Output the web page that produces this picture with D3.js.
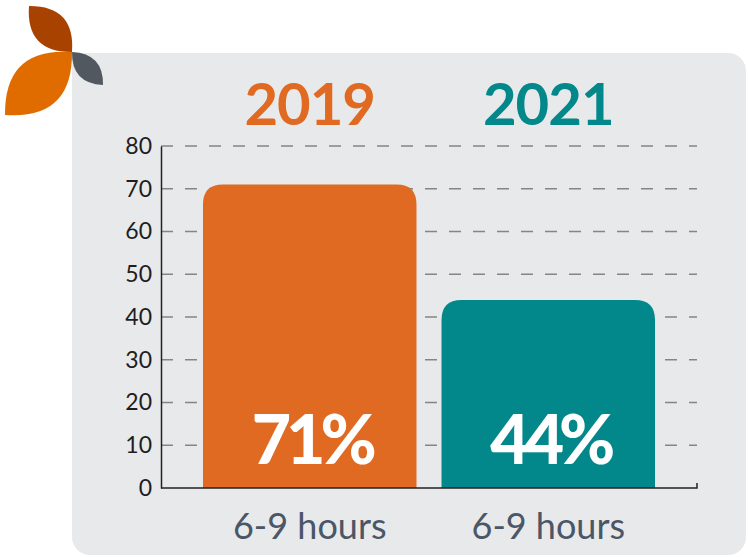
<!DOCTYPE html>
<html>
<head>
<meta charset="utf-8">
<script src="https://cdn.jsdelivr.net/npm/d3@7"></script>
<style>
  body { margin: 0; background: #fff; }
  text { font-family: "Lato", "Open Sans", sans-serif; }
</style>
</head>
<body>
<div id="chart"></div>
<script>
// data
const years = ["2019", "2021"];
const categories = ["6-9 hours", "6-9 hours"];
const values = [71, 44];
const colors = ["#E06A22", "#02878A"];
const yTicks = [0, 10, 20, 30, 40, 50, 60, 70, 80];

const width = 748;
const height = 557;

const svg = d3
  .select("#chart")
  .append("svg")
  .attr("width", width)
  .attr("height", height);

// gray panel
svg
  .append("rect")
  .attr("x", 72)
  .attr("y", 53)
  .attr("width", 674)
  .attr("height", 502)
  .attr("rx", 18)
  .attr("fill", "#E8E9EB");
svg
  .append("rect")
  .attr("x", 72)
  .attr("y", 53)
  .attr("width", 40)
  .attr("height", 40)
  .attr("fill", "#E8E9EB");

// logo petals: tip, base, bulge, colour
const petals = [
  { a: [29, 6], b: [72, 52], w: 17, c: "#A84200" },
  { a: [5, 115], b: [72, 52], w: 25, c: "#E06C00" },
  { a: [72, 52], b: [103, 85], w: 11, c: "#525860" },
];
const lens = (p) => {
  let dx = p.b[0] - p.a[0],
    dy = p.b[1] - p.a[1];
  let len = Math.sqrt(dx * dx + dy * dy);
  let nx = -dy / len,
    ny = dx / len;
  let mx = (p.a[0] + p.b[0]) / 2,
    my = (p.a[1] + p.b[1]) / 2;
  return (
    "M" + p.a + "Q" + [mx + nx * p.w * 2, my + ny * p.w * 2] + " " + p.b +
    "Q" + [mx - nx * p.w * 2, my - ny * p.w * 2] + " " + p.a + "Z"
  );
};
svg
  .append("g")
  .selectAll("path")
  .data(petals)
  .enter()
  .append("path")
  .attr("d", lens)
  .attr("fill", (d) => d.c);

// scales
const x = d3
  .scaleBand()
  .domain(d3.range(values.length))
  .range([161, 697])
  .paddingInner(0.105)
  .paddingOuter(0.176);

const y = d3.scaleLinear().domain([0, 80]).range([488, 146]);

// gridlines
svg
  .append("g")
  .selectAll("line")
  .data(yTicks.filter((t) => t > 0))
  .enter()
  .append("line")
  .attr("x1", 161)
  .attr("x2", 697)
  .attr("y1", (d) => y(d))
  .attr("y2", (d) => y(d))
  .attr("stroke", "#858585")
  .attr("stroke-width", 1.5)
  .attr("stroke-dasharray", "12 12");

// bars with rounded tops
const r = 20;
svg
  .append("g")
  .selectAll("path")
  .data(values)
  .enter()
  .append("path")
  .attr("fill", (d, i) => colors[i])
  .attr("d", (d, i) => {
    let x0 = x(i),
      x1 = x(i) + x.bandwidth(),
      y0 = y(0),
      y1 = y(d);
    return (
      "M" + x0 + "," + y0 +
      "V" + (y1 + r) +
      "Q" + x0 + "," + y1 + " " + (x0 + r) + "," + y1 +
      "H" + (x1 - r) +
      "Q" + x1 + "," + y1 + " " + x1 + "," + (y1 + r) +
      "V" + y0 + "Z"
    );
  });

// y axis
const yAxis = d3
  .axisLeft(y)
  .tickValues(yTicks)
  .tickSize(0)
  .tickPadding(9);
const ya = svg.append("g").attr("transform", "translate(161,0)").call(yAxis);
ya.select(".domain").attr("stroke", "#222").attr("stroke-width", 1.5);
ya.selectAll("text")
  .attr("font-size", 23)
  .attr("fill", "#1e1e1e")
  .style("font-family", "Lato, sans-serif");

// x axis line with end tick
svg
  .append("path")
  .attr("d", "M161," + y(0) + "H697V" + (y(0) - 5))
  .attr("fill", "none")
  .attr("stroke", "#222")
  .attr("stroke-width", 1.5);

// category labels
svg
  .append("g")
  .selectAll("text")
  .data(categories)
  .enter()
  .append("text")
  .attr("x", (d, i) => x(i) + x.bandwidth() / 2)
  .attr("y", 539)
  .attr("text-anchor", "middle")
  .attr("font-size", 36)
  .attr("font-weight", 400)
  .attr("fill", "#4B5666")
  .text((d) => d);

// year titles
svg
  .append("g")
  .selectAll("text")
  .data(years)
  .enter()
  .append("text")
  .attr("x", (d, i) => x(i) + x.bandwidth() / 2)
  .attr("y", 125)
  .attr("text-anchor", "middle")
  .attr("font-size", 58)
  .attr("font-weight", 700)
  .attr("letter-spacing", -1)
  .attr("fill", (d, i) => colors[i])
  .text((d) => d);

// value labels
svg
  .append("g")
  .selectAll("text")
  .data(values)
  .enter()
  .append("text")
  .attr("x", (d, i) => x(i) + x.bandwidth() / 2 + 2)
  .attr("y", 464)
  .attr("text-anchor", "middle")
  .attr("font-size", 68)
  .attr("font-weight", 900)
  .attr("letter-spacing", -5)
  .attr("fill", "#fff")
  .text((d) => d + "%");
</script>
</body>
</html>
